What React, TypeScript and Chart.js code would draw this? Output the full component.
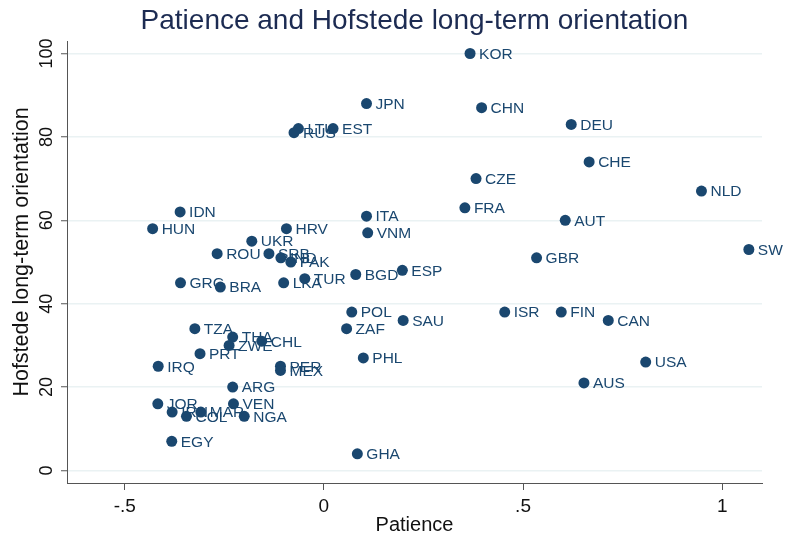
import React, { useEffect, useRef } from 'react';
import { Chart, registerables } from 'chart.js';

Chart.register(...registerables);

const titleText = 'Patience and Hofstede long-term orientation';
const xTitle = 'Patience';
const yTitle = 'Hofstede long-term orientation';

const countries = [
  'KOR', 'JPN', 'CHN', 'DEU', 'LTU', 'EST', 'RUS', 'CHE', 'CZE', 'NLD',
  'FRA', 'IDN', 'ITA', 'AUT', 'HUN', 'HRV', 'VNM', 'UKR', 'SWE', 'ROU',
  'SRB', 'IND', 'GBR', 'PAK', 'ESP', 'BGD', 'TUR', 'GRC', 'LKA', 'BRA',
  'POL', 'ISR', 'FIN', 'SAU', 'CAN', 'ZAF', 'TZA', 'THA', 'CHL', 'ZWE',
  'PRT', 'PHL', 'USA', 'IRQ', 'PER', 'MEX', 'AUS', 'ARG', 'JOR', 'VEN',
  'IRN', 'MAR', 'COL', 'NGA', 'EGY', 'GHA',
];
const patience = [
  0.367, 0.107, 0.396, 0.621, -0.064, 0.023, -0.075, 0.666, 0.382, 0.948,
  0.354, -0.361, 0.107, 0.606, -0.43, -0.094, 0.11, -0.181, 1.067, -0.268,
  -0.138, -0.108, 0.534, -0.083, 0.197, 0.08, -0.048, -0.36, -0.101, -0.26,
  0.07, 0.454, 0.596, 0.199, 0.714, 0.057, -0.324, -0.229, -0.156, -0.238,
  -0.311, 0.099, 0.808, -0.416, -0.109, -0.109, 0.653, -0.229, -0.417, -0.227,
  -0.381, -0.309, -0.345, -0.2, -0.382, 0.084,
];
const lto = [
  100, 88, 87, 83, 82, 82, 81, 74, 70, 67,
  63, 62, 61, 60, 58, 58, 57, 55, 53, 52,
  52, 51, 51, 50, 48, 47, 46, 45, 45, 44,
  38, 38, 38, 36, 36, 34, 34, 32, 31, 30,
  28, 27, 26, 25, 25, 24, 21, 20, 16, 16,
  14, 14, 13, 13, 7, 4,
];

const xTicks = [-0.5, 0, 0.5, 1];
const xTickLabels = ['-.5', '0', '.5', '1'];
const yTicks = [0, 20, 40, 60, 80, 100];
const yTickLabels = ['0', '20', '40', '60', '80', '100'];

const NAVY = '#1a476f';
const FONT = "'Liberation Sans', Arial, Helvetica, sans-serif";

const labelPlugin = {
  id: 'pointLabels',
  beforeDatasetsDraw(chart: any) {
    const ctx = chart.ctx;
    const meta = chart.getDatasetMeta(0);
    ctx.save();
    ctx.beginPath();
    ctx.rect(0, 0, 783, 540);
    ctx.clip();
    ctx.font = `15.5px ${FONT}`;
    ctx.fillStyle = NAVY;
    ctx.textAlign = 'left';
    ctx.textBaseline = 'middle';
    meta.data.forEach((el: any, i: number) => {
      ctx.fillText(countries[i], el.x + 9, el.y + 1);
    });
    ctx.restore();
  },
  afterDraw(chart: any) {
    const ctx = chart.ctx;
    const area = chart.chartArea;
    const yScale = chart.scales.y;
    ctx.save();
    // title
    ctx.font = `28px ${FONT}`;
    ctx.fillStyle = '#1c2b52';
    ctx.textAlign = 'center';
    ctx.textBaseline = 'middle';
    ctx.fillText(titleText, (area.left + area.right) / 2, 21);
    // y axis title
    ctx.save();
    ctx.font = `21.5px ${FONT}`;
    ctx.fillStyle = '#111';
    ctx.translate(22, 252);
    ctx.rotate(-Math.PI / 2);
    ctx.fillText(yTitle, 0, 0);
    ctx.restore();
    // rotated y tick labels
    ctx.font = `18px ${FONT}`;
    ctx.fillStyle = '#111';
    yTicks.forEach((v, i) => {
      const py = yScale.getPixelForValue(v);
      ctx.save();
      ctx.translate(47, py);
      ctx.rotate(-Math.PI / 2);
      ctx.textAlign = 'center';
      ctx.textBaseline = 'middle';
      ctx.fillText(yTickLabels[i], 0, 0);
      ctx.restore();
    });
    ctx.restore();
  },
};

export default function App() {
  const ref = useRef<HTMLCanvasElement>(null);
  useEffect(() => {
    document.body.style.margin = '0';
    const canvas = ref.current;
    if (!canvas) return;
    const chart = new Chart(canvas, {
      type: 'scatter',
      data: {
        datasets: [
          {
            data: patience.map((x, i) => ({ x, y: lto[i] })),
            backgroundColor: NAVY,
            borderWidth: 0,
            pointRadius: 5.5,
            pointHoverRadius: 5.5,
            clip: false as any,
          },
        ],
      },
      options: {
        responsive: false,
        animation: false,
        devicePixelRatio: 1,
        layout: { padding: { left: 0, right: 24, top: 41, bottom: 0 } },
        plugins: {
          legend: { display: false },
          tooltip: { enabled: false },
          title: { display: false },
        },
        scales: {
          x: {
            type: 'linear',
            min: -0.645,
            max: 1.1,
            afterBuildTicks: (scale: any) => {
              scale.ticks = xTicks.map((v) => ({ value: v }));
            },
            afterFit: (scale: any) => {
              scale.height = 57;
            },
            ticks: {
              color: '#111',
              font: { family: FONT, size: 19 },
              padding: 5,
              maxRotation: 0,
              callback: (_v: any, i: number) => xTickLabels[i],
            },
            grid: {
              drawOnChartArea: false,
              drawTicks: true,
              tickLength: 7,
              tickColor: '#555',
              tickWidth: 1,
            },
            border: { color: '#555', width: 1 },
            title: {
              display: true,
              text: xTitle,
              color: '#111',
              font: { family: FONT, size: 20 },
              padding: { top: 0, bottom: 3 },
            },
          },
          y: {
            type: 'linear',
            min: -3,
            max: 103,
            afterBuildTicks: (scale: any) => {
              scale.ticks = yTicks.map((v) => ({ value: v }));
            },
            afterFit: (scale: any) => {
              scale.width = 67;
            },
            ticks: { display: false },
            grid: {
              color: '#eaf2f3',
              lineWidth: 1.5,
              drawTicks: true,
              tickLength: 6,
              tickColor: '#555',
              tickWidth: 1,
            },
            border: { color: '#555', width: 1 },
            title: { display: false, text: yTitle },
          },
        },
      },
      plugins: [labelPlugin],
    });
    return () => chart.destroy();
  }, []);
  return (
    <div style={{ width: 786, height: 540, background: '#fff' }}>
      <canvas ref={ref} width={786} height={540} style={{ display: 'block' }} />
    </div>
  );
}
